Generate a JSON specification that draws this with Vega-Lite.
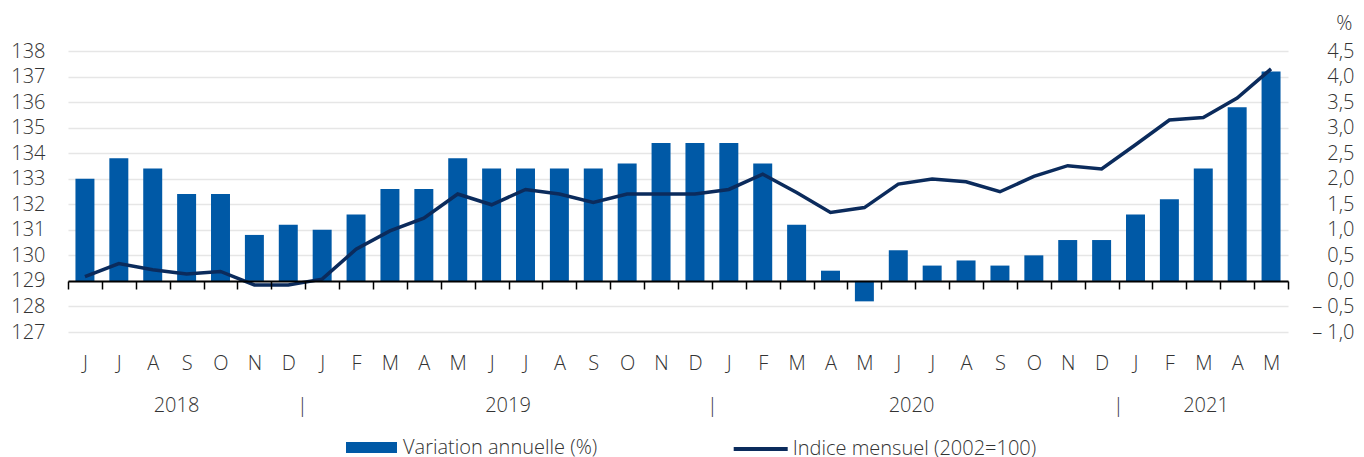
{
  "$schema": "https://vega.github.io/schema/vega-lite/v6.json",
  "width": 1220,
  "height": 281,
  "autosize": {"type": "none"},
  "padding": {"left": 68, "top": 51, "right": 76, "bottom": 125},
  "background": "white",
  "config": {
    "view": {"stroke": null},
    "font": "Open Sans",
    "axis": {"labelFont": "Open Sans", "labelFontWeight": 300, "labelFontSize": 20, "labelColor": "#333333", "titleFont": "Open Sans"},
    "legend": {"labelFont": "Open Sans", "labelFontWeight": 300, "labelFontSize": 20, "labelColor": "#333333", "labelLimit": 0}
  },
  "data": {
    "values": [
      {"mois": "2018-06", "variation": 2.0, "indice": 129.17},
      {"mois": "2018-07", "variation": 2.4, "indice": 129.68},
      {"mois": "2018-08", "variation": 2.2, "indice": 129.44},
      {"mois": "2018-09", "variation": 1.7, "indice": 129.27},
      {"mois": "2018-10", "variation": 1.7, "indice": 129.37},
      {"mois": "2018-11", "variation": 0.9, "indice": 128.84},
      {"mois": "2018-12", "variation": 1.1, "indice": 128.84},
      {"mois": "2019-01", "variation": 1.0, "indice": 129.07},
      {"mois": "2019-02", "variation": 1.3, "indice": 130.24},
      {"mois": "2019-03", "variation": 1.8, "indice": 130.96},
      {"mois": "2019-04", "variation": 1.8, "indice": 131.46},
      {"mois": "2019-05", "variation": 2.4, "indice": 132.40},
      {"mois": "2019-06", "variation": 2.2, "indice": 131.98},
      {"mois": "2019-07", "variation": 2.2, "indice": 132.58},
      {"mois": "2019-08", "variation": 2.2, "indice": 132.40},
      {"mois": "2019-09", "variation": 2.2, "indice": 132.07},
      {"mois": "2019-10", "variation": 2.3, "indice": 132.40},
      {"mois": "2019-11", "variation": 2.7, "indice": 132.40},
      {"mois": "2019-12", "variation": 2.7, "indice": 132.40},
      {"mois": "2020-01", "variation": 2.7, "indice": 132.58},
      {"mois": "2020-02", "variation": 2.3, "indice": 133.18},
      {"mois": "2020-03", "variation": 1.1, "indice": 132.46},
      {"mois": "2020-04", "variation": 0.2, "indice": 131.68},
      {"mois": "2020-05", "variation": -0.4, "indice": 131.87},
      {"mois": "2020-06", "variation": 0.6, "indice": 132.79},
      {"mois": "2020-07", "variation": 0.3, "indice": 132.99},
      {"mois": "2020-08", "variation": 0.4, "indice": 132.88},
      {"mois": "2020-09", "variation": 0.3, "indice": 132.49},
      {"mois": "2020-10", "variation": 0.5, "indice": 133.09},
      {"mois": "2020-11", "variation": 0.8, "indice": 133.51},
      {"mois": "2020-12", "variation": 0.8, "indice": 133.38},
      {"mois": "2021-01", "variation": 1.3, "indice": 134.33},
      {"mois": "2021-02", "variation": 1.6, "indice": 135.30},
      {"mois": "2021-03", "variation": 2.2, "indice": 135.40},
      {"mois": "2021-04", "variation": 3.4, "indice": 136.16},
      {"mois": "2021-05", "variation": 4.1, "indice": 137.30}
    ]
  },
  "layer": [
    {
      "mark": {"type": "bar", "width": {"band": 0.56}},
      "encoding": {
        "x": {
          "field": "mois", "type": "ordinal", "sort": null,
          "scale": {"type": "band", "paddingInner": 0, "paddingOuter": 0},
          "axis": {
            "orient": "bottom", "offset": -51, "title": null, "zindex": 1,
            "domain": true, "domainColor": "#000000", "domainWidth": 2,
            "ticks": true, "tickBand": "extent", "tickSize": 8, "tickWidth": 1.5, "tickColor": "#000000",
            "labelAngle": 0, "labelBaseline": "alphabetic", "labelPadding": 80, "labelOverlap": false, "labelBound": false,
            "labelExpr": "substring('JFMAMJJASOND', toNumber(substring(datum.value, 5, 7)) - 1, toNumber(substring(datum.value, 5, 7)))"
          }
        },
        "y": {
          "field": "variation", "type": "quantitative",
          "scale": {"domain": [-1, 4.5], "nice": false, "zero": false},
          "axis": {
            "orient": "right", "values": [-1, -0.5, 0, 0.5, 1, 1.5, 2, 2.5, 3, 3.5, 4, 4.5],
            "grid": false, "domain": false, "ticks": false,
            "labelAlign": "right", "labelPadding": 66, "labelBaseline": "middle",
            "labelExpr": "datum.value < 0 ? '\u2013 ' + replace(format(-datum.value, '.1f'), '.', ',') : replace(format(datum.value, '.1f'), '.', ',')",
            "title": "%", "titleAngle": 0, "titleAlign": "right", "titleBaseline": "alphabetic",
            "titleX": 64, "titleY": -22, "titleFontSize": 20, "titleFontWeight": 300, "titleColor": "#333333"
          }
        },
        "color": {
          "datum": "Variation annuelle (%)",
          "scale": {"range": ["#0059a6"]},
          "legend": {
            "orient": "none", "legendX": 278, "legendY": 371, "title": null, "padding": 0,
            "symbolType": "M-1,-0.216H1V0.216H-1Z", "symbolSize": 2601, "symbolStrokeWidth": 0,
            "symbolOpacity": 1, "labelOffset": 6, "labelBaseline": "middle", "labelLimit": 0
          }
        }
      }
    },
    {
      "mark": {"type": "line", "strokeWidth": 3.5},
      "encoding": {
        "x": {
          "field": "mois", "type": "ordinal", "sort": null,
          "scale": {"type": "point", "padding": 0.5},
          "axis": {
            "orient": "bottom", "title": null, "domain": false, "ticks": false, "grid": false,
            "labelAngle": 0, "labelBaseline": "alphabetic", "labelPadding": 79, "labelOverlap": false, "labelBound": false,
            "labelExpr": "datum.value == '2018-09' ? '2018' : datum.value == '2018-12' ? '|' : datum.value == '2019-06' ? '2019' : datum.value == '2019-12' ? '|' : datum.value == '2020-06' ? '2020' : datum.value == '2020-12' ? '|' : datum.value == '2021-03' ? '2021' : ''",
            "labelOffset": {
              "condition": [
                {"test": "datum.value == '2018-09'", "value": -10.6},
                {"test": "datum.value == '2018-12'", "value": 13.72},
                {"test": "datum.value == '2019-06'", "value": 15.9},
                {"test": "datum.value == '2019-12'", "value": 17.06},
                {"test": "datum.value == '2020-06'", "value": 12.7},
                {"test": "datum.value == '2020-12'", "value": 16.39},
                {"test": "datum.value == '2021-03'", "value": 2.2}
              ],
              "value": 0
            }
          }
        },
        "y": {
          "field": "indice", "type": "quantitative",
          "scale": {"domain": [127, 138], "nice": false, "zero": false},
          "axis": {
            "orient": "left", "values": [127, 128, 129, 130, 131, 132, 133, 134, 135, 136, 137, 138],
            "grid": true, "gridColor": "#e6e6e6", "gridWidth": 1.5,
            "domain": false, "ticks": false, "labelPadding": 23, "labelBaseline": "middle", "title": null
          }
        },
        "stroke": {
          "datum": "Indice mensuel (2002=100)",
          "scale": {"range": ["#0b2b5c"]},
          "legend": {
            "orient": "none", "legendX": 663.7, "legendY": 369, "title": null, "padding": 0,
            "symbolType": "stroke", "symbolSize": 2916, "symbolStrokeWidth": 4,
            "labelOffset": 3, "labelBaseline": "middle", "labelLimit": 0
          }
        }
      }
    }
  ],
  "resolve": {"scale": {"x": "independent", "y": "independent"}}
}
